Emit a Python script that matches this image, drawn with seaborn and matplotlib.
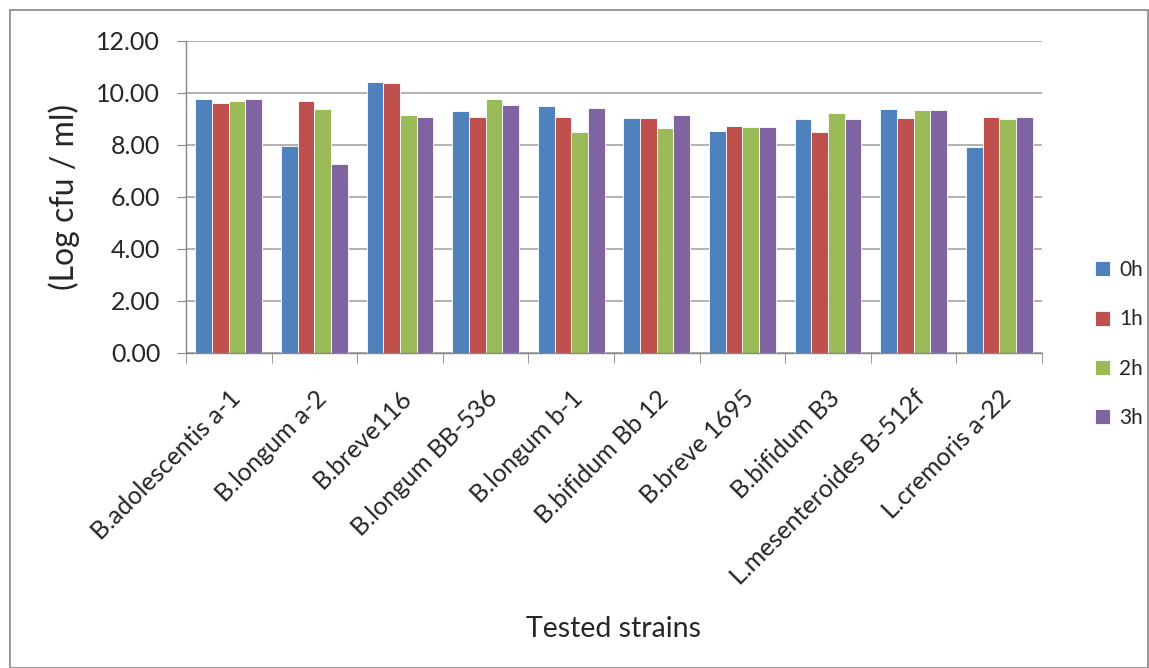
import numpy as np
import pandas as pd
import matplotlib
matplotlib.use("Agg")
import matplotlib.pyplot as plt
import seaborn as sns
from matplotlib.patches import Rectangle
from matplotlib.ticker import FixedLocator, FormatStrFormatter

strains = ["B.adolescentis a-1", "B.longum a-2", "B.breve116", "B.longum BB-536",
           "B.longum b-1", "B.bifidum Bb 12", "B.breve 1695", "B.bifidum B3",
           "L.mesenteroides B-512f", "L.cremoris a-22"]
times = ["0h", "1h", "2h", "3h"]
h0 = [9.78, 7.96, 10.41, 9.30, 9.49, 9.04, 8.55, 8.99, 9.38, 7.91]
h1 = [9.60, 9.68, 10.37, 9.09, 9.09, 9.04, 8.74, 8.50, 9.04, 9.09]
h2 = [9.68, 9.38, 9.14, 9.78, 8.50, 8.64, 8.69, 9.24, 9.33, 8.99]
h3 = [9.78, 7.26, 9.09, 9.54, 9.43, 9.14, 8.69, 8.99, 9.33, 9.09]
colors = ["#4F81BD", "#C0504D", "#9BBB59", "#8064A2"]

rows = []
for t, vals in zip(times, [h0, h1, h2, h3]):
    for s, v in zip(strains, vals):
        rows.append({"strain": s, "time": t, "value": v})
df = pd.DataFrame(rows)

sns.set_style("white")
plt.rcParams["font.family"] = ["Lato", "DejaVu Sans"]

fig = plt.figure(figsize=(11.49, 6.68), dpi=100)
ax = fig.add_axes([186 / 1149, 1 - 353 / 668, 856 / 1149, 312 / 668])

sns.barplot(data=df, x="strain", y="value", hue="time", palette=colors,
            width=0.78, gap=0, ax=ax, edgecolor="white", linewidth=0.6,
            errorbar=None, saturation=1)

ax.set_ylim(0, 12)
ax.set_xlim(-0.5, len(strains) - 0.5)
ax.set_yticks(np.arange(0, 12.01, 2))
ax.yaxis.set_major_formatter(FormatStrFormatter("%.2f"))
ax.grid(axis="y", color="#A6A6A6", linewidth=1.2)
ax.set_axisbelow(True)

for side in ["top", "right"]:
    ax.spines[side].set_visible(False)
for side in ["left", "bottom"]:
    ax.spines[side].set_color("#868686")
    ax.spines[side].set_linewidth(1.0)

ax.tick_params(axis="y", which="major", length=6.5, color="#868686",
               labelsize=18, pad=12, left=True)
ax.tick_params(axis="x", which="major", length=0, labelsize=18, pad=24)
ax.xaxis.set_minor_locator(FixedLocator(np.arange(-0.5, len(strains), 1)))
ax.tick_params(axis="x", which="minor", length=7, color="#868686", bottom=True)
plt.setp(ax.get_xticklabels(), rotation=45, ha="right", rotation_mode="anchor")

ax.set_xlabel("Tested strains", fontsize=20.5)
ax.xaxis.set_label_coords(0.5, (353 - 616) / 312)
ax.set_ylabel("(Log cfu / ml)", fontsize=23, va="center")
ax.yaxis.set_label_coords((64 - 186) / 856, 0.5)

ax.legend(loc="center left", bbox_to_anchor=(1.040, 0.029), frameon=False,
          fontsize=15, handlelength=0.72, handleheight=0.72, labelspacing=1.4,
          handletextpad=0.45)

fig.add_artist(Rectangle((10 / 1149, 0), 1 - 10 / 1149 - 0.001, 1 - 10 / 668,
                         transform=fig.transFigure, fill=False,
                         edgecolor="#868686", linewidth=1.2))

fig.savefig("out.png", dpi=100)
